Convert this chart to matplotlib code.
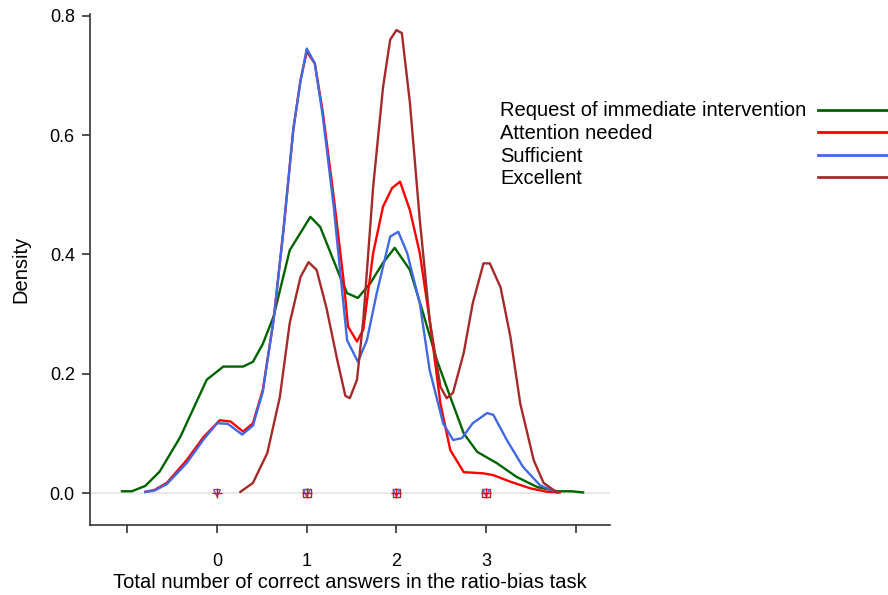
import matplotlib
matplotlib.use("Agg")
import matplotlib.pyplot as plt
from matplotlib.lines import Line2D

plt.rcParams['font.family'] = ['Liberation Sans', 'DejaVu Sans']

# density curves per performance group (x = correct answers, y = density)
x_request = [-1.06, -0.95, -0.80, -0.64, -0.41, -0.115, 0.07, 0.29, 0.40, 0.51, 0.63, 0.81,
             1.04, 1.15, 1.37, 1.45, 1.57, 1.71, 1.85, 1.98, 2.15, 2.30, 2.45, 2.60, 2.75,
             2.90, 3.12, 3.34, 3.57, 3.79, 3.95, 4.08]
y_request = [0.003, 0.003, 0.012, 0.036, 0.094, 0.190, 0.212, 0.212, 0.220, 0.250, 0.296, 0.407,
             0.463, 0.446, 0.363, 0.335, 0.327, 0.352, 0.386, 0.411, 0.374, 0.300, 0.223, 0.161,
             0.100, 0.069, 0.050, 0.027, 0.010, 0.003, 0.003, 0.001]

x_attention = [-0.80, -0.70, -0.56, -0.34, -0.15, 0.03, 0.15, 0.29, 0.40, 0.51, 0.63, 0.74,
               0.85, 0.93, 1.00, 1.09, 1.18, 1.30, 1.41, 1.46, 1.56, 1.63, 1.74, 1.85, 1.95,
               2.04, 2.15, 2.26, 2.37, 2.49, 2.60, 2.75, 2.97, 3.08, 3.27, 3.49, 3.68, 3.82]
y_attention = [0.002, 0.005, 0.017, 0.055, 0.094, 0.122, 0.120, 0.103, 0.117, 0.173, 0.290, 0.441,
               0.609, 0.692, 0.740, 0.720, 0.637, 0.497, 0.357, 0.279, 0.254, 0.274, 0.402, 0.480,
               0.511, 0.522, 0.474, 0.402, 0.290, 0.150, 0.072, 0.035, 0.033, 0.030, 0.019, 0.008,
               0.002, 0.001]

x_sufficient = [-0.80, -0.70, -0.56, -0.34, -0.15, 0.00, 0.12, 0.28, 0.40, 0.51, 0.63, 0.74,
                0.85, 0.93, 1.00, 1.09, 1.18, 1.30, 1.40, 1.45, 1.57, 1.67, 1.78, 1.93, 2.02,
                2.12, 2.26, 2.37, 2.52, 2.63, 2.73, 2.85, 3.01, 3.08, 3.23, 3.41, 3.60, 3.79]
y_sufficient = [0.002, 0.004, 0.015, 0.050, 0.090, 0.117, 0.116, 0.098, 0.113, 0.170, 0.290, 0.440,
                0.610, 0.690, 0.745, 0.720, 0.630, 0.480, 0.330, 0.256, 0.220, 0.256, 0.335, 0.430,
                0.438, 0.402, 0.318, 0.206, 0.117, 0.089, 0.092, 0.117, 0.134, 0.131, 0.089, 0.044,
                0.013, 0.001]

x_excellent = [0.26, 0.40, 0.56, 0.70, 0.81, 0.93, 1.02, 1.11, 1.22, 1.34, 1.43, 1.48, 1.56,
               1.63, 1.74, 1.85, 1.93, 2.00, 2.06, 2.15, 2.26, 2.37, 2.49, 2.56, 2.63, 2.75,
               2.85, 2.97, 3.04, 3.16, 3.27, 3.38, 3.53, 3.64, 3.79]
y_excellent = [0.002, 0.017, 0.067, 0.161, 0.285, 0.362, 0.387, 0.374, 0.310, 0.223, 0.163, 0.159,
               0.190, 0.290, 0.513, 0.680, 0.760, 0.776, 0.771, 0.654, 0.458, 0.290, 0.178, 0.159,
               0.168, 0.235, 0.318, 0.385, 0.385, 0.345, 0.262, 0.150, 0.055, 0.017, 0.001]

# observed answer counts shown as rug points on the baseline
rug_all = [0, 1, 2, 3]
rug_excellent = [1, 2, 3]

labels = ['Request of immediate intervention', 'Attention needed', 'Sufficient', 'Excellent']
colors = ['#006400', '#FF0000', '#4169E1', '#A52A2A']

x_ticks = [-1, 0, 1, 2, 3, 4]
x_ticklabels = ['', '0', '1', '2', '3', '']
y_ticks = [0.0, 0.2, 0.4, 0.6, 0.8]

fig = plt.figure(figsize=(8.88, 5.95), dpi=100)
ax = fig.add_axes([0.1014, 0.1176, 0.5856, 0.8589])

ax.axhline(0, color='#e8e8e8', linewidth=1.5, zorder=0)

series = [(x_request, y_request), (x_attention, y_attention),
          (x_sufficient, y_sufficient), (x_excellent, y_excellent)]
for (xs, ys), lab, col in zip(series, labels, colors):
    ax.plot(xs, ys, color=col, linewidth=1.7, label=lab)

ax.scatter(rug_excellent, [0] * len(rug_excellent), marker='s', s=30,
           facecolors='none', edgecolors='#A52A2A', linewidths=1.0, zorder=3)
ax.scatter(rug_all, [0] * len(rug_all), marker='v', s=24,
           facecolors='none', edgecolors='#4169E1', linewidths=1.0, zorder=3)
ax.scatter(rug_all, [0] * len(rug_all), marker='+', s=45,
           color='#FF0000', linewidths=1.0, zorder=4)

ax.set_xlim(-1.416, 4.381)
ax.set_ylim(-0.0536, 0.803)
ax.set_xticks(x_ticks)
ax.set_xticklabels(x_ticklabels)
ax.set_yticks(y_ticks)
ax.set_yticklabels([f'{v:.1f}' for v in y_ticks])
ax.tick_params(direction='out', length=6, width=1.2, labelsize=13, pad=5, color='#333333')
ax.tick_params(axis='x', pad=14)

for side in ['top', 'right']:
    ax.spines[side].set_visible(False)
for side in ['left', 'bottom']:
    ax.spines[side].set_linewidth(1.2)
    ax.spines[side].set_color('#333333')

ax.set_xlabel('Total number of correct answers in the ratio-bias task', fontsize=14.5, labelpad=2)
ax.set_ylabel('Density', fontsize=14.5, labelpad=14)

# key to the right of the plot: left-aligned labels, line samples in one column
key_top = 1 - 111 / 595
key_step = 22.6 / 595
for i, (lab, col) in enumerate(zip(labels, colors)):
    yk = key_top - i * key_step
    fig.text(500 / 888, yk, lab, fontsize=14.5, ha='left', va='center')
    fig.add_artist(Line2D([818 / 888, 887 / 888], [yk + 1.5 / 595, yk + 1.5 / 595],
                          color=col, linewidth=2, transform=fig.transFigure))

fig.savefig('out.png', dpi=100)
